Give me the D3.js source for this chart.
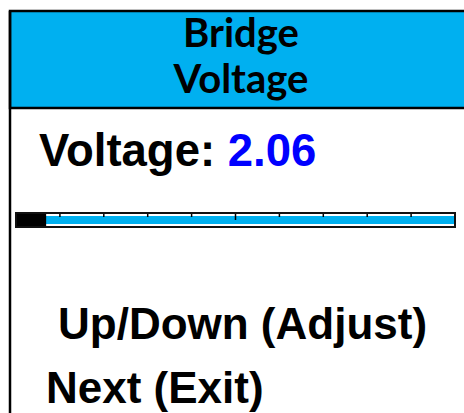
<!DOCTYPE html>
<html>
<head>
<meta charset="utf-8">
<script src="https://cdn.jsdelivr.net/npm/d3@7"></script>
<style>
  body { margin: 0; background: #fff; }
  svg { display: block; }
</style>
</head>
<body>
<div id="chart"></div>
<script>
// screen content
var titleLines = ["Bridge", "Voltage"]
var valueLabel = "Voltage: "
var voltage = 2.06
var menuLines = ["Up/Down (Adjust)", "Next (Exit)"]
// bar gauge
var gaugeDomain = [0, 30]
var gaugeTicks = [3, 6, 9, 12, 15, 18, 21, 24, 27]
var longTick = 15

var width = 464, height = 413
var blue = "#00b0f0"

var svg = d3.select("#chart").append("svg")
  .attr("width", width)
  .attr("height", height)

// header box
svg.append("rect")
  .attr("x", 10).attr("y", 11)
  .attr("width", 470).attr("height", 97)
  .attr("fill", blue)
  .attr("stroke", "#000")
  .attr("stroke-width", 2.5)

// left edge line
svg.append("line")
  .attr("x1", 10).attr("x2", 10)
  .attr("y1", 11).attr("y2", height)
  .attr("stroke", "#000")
  .attr("stroke-width", 2.5)

svg.selectAll(".title")
  .data(titleLines)
  .enter().append("text")
  .attr("class", "title")
  .attr("x", 241)
  .attr("y", (d, i) => 47 + i * 46)
  .attr("text-anchor", "middle")
  .style("font-family", "Lato, 'Open Sans', sans-serif")
  .style("font-weight", "bold")
  .style("font-size", "40px")
  .text(d => d)

// value readout
var readout = svg.append("text")
  .attr("x", 39)
  .attr("y", 166)
  .style("font-family", "'Liberation Sans', Arial, sans-serif")
  .style("font-weight", "bold")
  .style("font-size", "45.5px")
readout.append("tspan").attr("fill", "#000").text(valueLabel)
readout.append("tspan").attr("fill", "#0000ff").text(voltage.toFixed(2))

// gauge
var x = d3.scaleLinear()
  .domain(gaugeDomain)
  .range([16, 455])

var g = svg.append("g")
g.append("rect")
  .attr("x", x(gaugeDomain[0])).attr("y", 216)
  .attr("width", x(gaugeDomain[1]) - x(gaugeDomain[0])).attr("height", 8)
  .attr("fill", blue)

g.selectAll(".tick")
  .data(gaugeTicks)
  .enter().append("line")
  .attr("class", "tick")
  .attr("x1", d => x(d)).attr("x2", d => x(d))
  .attr("y1", 213)
  .attr("y2", d => d === longTick ? 220 : 217)
  .attr("stroke", "#000")
  .attr("stroke-width", 1.5)

g.append("rect")
  .attr("x", x(gaugeDomain[0])).attr("y", 213)
  .attr("width", x(voltage) - x(gaugeDomain[0])).attr("height", 14)
  .attr("fill", "#000")

g.append("rect")
  .attr("x", x(gaugeDomain[0])).attr("y", 213)
  .attr("width", x(gaugeDomain[1]) - x(gaugeDomain[0])).attr("height", 14)
  .attr("fill", "none")
  .attr("stroke", "#111")
  .attr("stroke-width", 2)

// menu lines
svg.selectAll(".menu")
  .data(menuLines)
  .enter().append("text")
  .attr("class", "menu")
  .attr("x", (d, i) => i === 0 ? 58 : 46)
  .attr("y", (d, i) => i === 0 ? 339 : 403)
  .style("font-family", "'Liberation Sans', Arial, sans-serif")
  .style("font-weight", "bold")
  .style("font-size", "44px")
  .text(d => d)
</script>
</body>
</html>
